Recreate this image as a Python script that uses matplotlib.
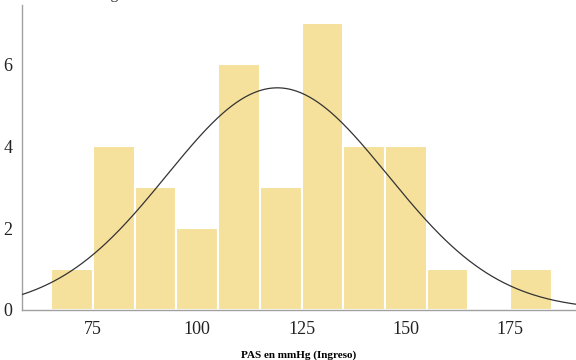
import numpy as np
import matplotlib
matplotlib.use('Agg')
import matplotlib.pyplot as plt

plt.rcParams['font.family'] = ['Liberation Serif', 'DejaVu Serif']

# histogram of systolic pressure at admission, bins of 10 mmHg
bin_edges = [65, 75, 85, 95, 105, 115, 125, 135, 145, 155, 165, 175, 185]
counts = [1, 4, 3, 2, 6, 3, 7, 4, 4, 1, 0, 1]
x_ticks = [75, 100, 125, 150, 175]
y_ticks = [0, 2, 4, 6]

# fitted normal
mu = 119.2
sigma = 26.5
n_total = sum(counts)
bin_width = 10

fig = plt.figure(figsize=(5.76, 3.6), dpi=100)
ax = fig.add_axes([22 / 576, 1 - 310 / 360, 1 - 22 / 576, 305 / 360])

lefts = bin_edges[:-1]
ax.bar(lefts, counts, width=bin_width, align='edge', color='#F6E19C',
       edgecolor='white', linewidth=1.5, zorder=2)

xs = np.linspace(55, 195, 400)
ys = n_total * bin_width / (sigma * np.sqrt(2 * np.pi)) * np.exp(-(xs - mu) ** 2 / (2 * sigma ** 2))
ax.plot(xs, ys, color='#333333', linewidth=0.9, zorder=3)

ax.set_xlim(58, 190.8)
ax.set_ylim(0, 7.44)
ax.set_xticks(x_ticks)
ax.set_yticks(y_ticks)
ax.tick_params(length=0, labelsize=13, colors='#222222')
ax.tick_params(axis='x', pad=8)
ax.tick_params(axis='y', pad=7)

for side in ['top', 'right']:
    ax.spines[side].set_visible(False)
for side in ['left', 'bottom']:
    ax.spines[side].set_color('#a0a0a0')
    ax.spines[side].set_linewidth(1.0)

ax.set_xlabel('PAS en mmHg (Ingreso)', fontsize=8, fontweight='bold', labelpad=9)

# title sits above the top edge of the canvas
fig.text(118 / 576, 1 + 1.0 / 360, 'PAS en mmHg', ha='right', va='baseline',
         fontsize=11, color='#222222')

fig.savefig('out.png', dpi=100)
